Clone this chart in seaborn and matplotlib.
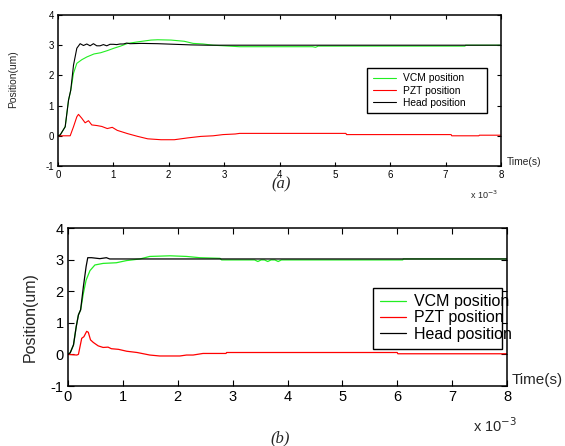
import numpy as np
import pandas as pd
import matplotlib
matplotlib.use("Agg")
import matplotlib.pyplot as plt
from matplotlib.patches import Rectangle
import seaborn as sns

# ---------------- data (time in units of 1e-3 s, position in um) ----------------
# panel (a)
t_head_a = [0, 0.04, 0.13, 0.19, 0.23, 0.28, 0.34, 0.40, 0.46, 0.52, 0.58, 0.64, 0.70,
            0.76, 0.82, 0.88, 0.94, 1.00, 1.06, 1.12, 1.18, 1.24, 1.30, 1.50, 1.80,
            2.10, 2.40, 2.70, 3.00, 8.00]
y_head_a = [0, 0.03, 0.30, 1.18, 1.51, 2.34, 2.90, 3.05, 2.99, 3.04, 2.98, 3.05, 2.98,
            2.98, 3.02, 2.98, 3.03, 3.03, 3.02, 3.04, 3.04, 3.07, 3.05, 3.06, 3.05,
            3.03, 3.01, 3.00, 3.00, 3.00]

t_vcm_a = [0, 0.04, 0.13, 0.19, 0.23, 0.28, 0.34, 0.43, 0.52, 0.65, 0.77, 0.89, 1.01,
           1.13, 1.26, 1.44, 1.68, 1.80, 2.04, 2.28, 2.44, 2.62, 2.80, 3.28, 4.60,
           4.65, 4.70, 7.35, 7.36, 8.00]
y_vcm_a = [0, 0.03, 0.30, 1.18, 1.50, 2.07, 2.40, 2.52, 2.61, 2.71, 2.75, 2.82, 2.90,
           2.97, 3.06, 3.11, 3.17, 3.18, 3.17, 3.13, 3.06, 3.04, 3.00, 2.95, 2.95,
           2.93, 2.97, 2.97, 3.00, 3.00]

t_pzt_a = [0, 0.22, 0.28, 0.34, 0.37, 0.43, 0.49, 0.55, 0.61, 0.70, 0.79, 0.89, 0.98,
           1.07, 1.26, 1.44, 1.62, 1.86, 2.10, 2.34, 2.58, 2.80, 2.98, 3.20, 3.28,
           5.20, 5.21, 7.10, 7.11, 7.60, 7.61, 8.00]
y_pzt_a = [0, 0, 0.30, 0.63, 0.71, 0.58, 0.43, 0.50, 0.36, 0.34, 0.31, 0.24, 0.28,
           0.18, 0.07, -0.02, -0.10, -0.13, -0.13, -0.07, -0.02, 0.00, 0.04, 0.06, 0.08,
           0.08, 0.04, 0.04, 0.00, 0.00, 0.02, 0.02]

# panel (b)
t_head_b = [0, 0.04, 0.10, 0.15, 0.19, 0.23, 0.28, 0.33, 0.36, 0.43, 0.58, 0.70, 0.76, 8.00]
y_head_b = [0, 0.05, 0.30, 0.88, 1.25, 1.41, 2.14, 2.78, 3.06, 3.06, 3.03, 3.06, 3.02, 3.02]

t_vcm_b = [0, 0.04, 0.10, 0.15, 0.19, 0.23, 0.28, 0.33, 0.40, 0.49, 0.64, 0.88, 1.07,
           1.31, 1.49, 1.86, 2.16, 2.40, 2.77, 2.80, 3.40, 3.46, 3.52, 3.58, 3.64,
           3.70, 3.77, 3.83, 3.89, 6.10, 6.11, 8.00]
y_vcm_b = [0, 0.05, 0.30, 0.88, 1.25, 1.41, 1.93, 2.35, 2.65, 2.83, 2.88, 2.90, 2.97,
           3.02, 3.10, 3.12, 3.10, 3.06, 3.04, 2.99, 2.99, 2.94, 2.99, 2.99, 2.94,
           2.99, 2.99, 2.94, 2.99, 2.99, 3.02, 3.02]

t_pzt_b = [0, 0.16, 0.19, 0.25, 0.29, 0.34, 0.37, 0.41, 0.46, 0.55, 0.64, 0.73, 0.79,
           0.92, 1.07, 1.26, 1.49, 1.67, 2.04, 2.16, 2.28, 2.46, 2.88, 2.89, 6.00,
           6.01, 8.00]
y_pzt_b = [0, -0.02, 0.0, 0.51, 0.56, 0.73, 0.70, 0.46, 0.38, 0.27, 0.22, 0.23, 0.18,
           0.16, 0.10, 0.06, -0.02, -0.05, -0.05, -0.02, -0.02, 0.03, 0.03, 0.06, 0.06,
           0.02, 0.02]

labels = ["VCM position", "PZT position", "Head position"]
colors = {"VCM position": "#22ee22", "PZT position": "#ff0000", "Head position": "#000000"}

panel_a = {"VCM position": (t_vcm_a, y_vcm_a),
           "PZT position": (t_pzt_a, y_pzt_a),
           "Head position": (t_head_a, y_head_a)}
panel_b = {"VCM position": (t_vcm_b, y_vcm_b),
           "PZT position": (t_pzt_b, y_pzt_b),
           "Head position": (t_head_b, y_head_b)}

x_ticks = [0, 1, 2, 3, 4, 5, 6, 7, 8]
y_ticks = [-1, 0, 1, 2, 3, 4]

# ---------------- style ----------------
sns.set_theme(style="ticks")
plt.rcParams["font.family"] = ["Liberation Sans", "DejaVu Sans"]
plt.rcParams["axes.linewidth"] = 1.1

W, H = 565, 446
fig = plt.figure(figsize=(W / 100, H / 100), dpi=100)
fig.patch.set_facecolor("white")


def fx(px):
    return px / W


def fy(py):
    return 1 - py / H


def draw_panel(ax, series, tick_fs, lw):
    for name in labels:
        t, y = series[name]
        df = pd.DataFrame({"t": t, "pos": y})
        sns.lineplot(data=df, x="t", y="pos", ax=ax, color=colors[name],
                     linewidth=lw, label=name, sort=False, estimator=None)
    ax.set_xlim(0, 8)
    ax.set_ylim(-1, 4)
    ax.set_xticks(x_ticks)
    ax.set_yticks(y_ticks)
    ax.set_xticklabels([str(v) for v in x_ticks])
    ax.set_yticklabels([str(v) for v in y_ticks])
    ax.tick_params(direction="in", top=True, right=True, length=3, width=0.8,
                   labelsize=tick_fs, pad=3, colors="black")
    ax.set_xlabel("")
    ax.set_ylabel("")
    for s in ax.spines.values():
        s.set_color("black")
    ax.set_facecolor("white")


def add_legend(ax, box, handle_x, mid_y, fs, hl, htp, ls):
    # framed box drawn separately so the entries may run past its edge
    x0, y0, x1, y1 = box
    ax.add_patch(Rectangle((fx(x0), fy(y1)), fx(x1) - fx(x0), fy(y0) - fy(y1),
                           transform=fig.transFigure, facecolor="white",
                           edgecolor="black", linewidth=1.0, zorder=4,
                           clip_on=False))
    handles, labs = ax.get_legend_handles_labels()
    leg = ax.legend(handles, labs, loc="center left",
                    bbox_to_anchor=(fx(handle_x), fy(mid_y)),
                    bbox_transform=fig.transFigure, frameon=False,
                    borderpad=0, borderaxespad=0, handlelength=hl,
                    handletextpad=htp, labelspacing=ls, fontsize=fs)
    leg.set_zorder(5)
    for t in leg.get_texts():
        t.set_color("black")


# ---------------- panel (a) ----------------
ax_a = fig.add_axes([fx(58), fy(166), fx(501) - fx(58), fy(15) - fy(166)])
draw_panel(ax_a, panel_a, tick_fs=7, lw=0.8)
add_legend(ax_a, (367, 68, 487, 113), 373, 90.5, fs=7.4, hl=2.2, htp=0.7, ls=0.22)
fig.text(fx(13), fy(79), "Position(um)", rotation=90, ha="center", va="center",
         fontsize=7.4)
fig.text(fx(507), fy(162), "Time(s)", ha="left", va="center", fontsize=7.4)
fig.text(fx(470), fy(195), r"x 10$^{-3}$", ha="left", va="center", fontsize=6.5)
fig.text(fx(281), fy(184), "(a)", ha="center", va="center", fontsize=12,
         family="Liberation Serif", style="italic")

# ---------------- panel (b) ----------------
ax_b = fig.add_axes([fx(68), fy(386), fx(507) - fx(68), fy(228) - fy(386)])
draw_panel(ax_b, panel_b, tick_fs=10.5, lw=0.9)
ax_b.tick_params(length=4)
add_legend(ax_b, (373, 288, 502, 349), 380, 318, fs=11.5, hl=1.6, htp=0.5, ls=0.08)
fig.text(fx(30), fy(317), "Position(um)", rotation=90, ha="center", va="center",
         fontsize=11.5)
fig.text(fx(512), fy(380), "Time(s)", ha="left", va="center", fontsize=11)
fig.text(fx(473), fy(426), r"x 10$^{-3}$", ha="left", va="center", fontsize=10.5)
fig.text(fx(280), fy(438), "(b)", ha="center", va="center", fontsize=12,
         family="Liberation Serif", style="italic")

fig.savefig("out.png", dpi=100, facecolor="white")
